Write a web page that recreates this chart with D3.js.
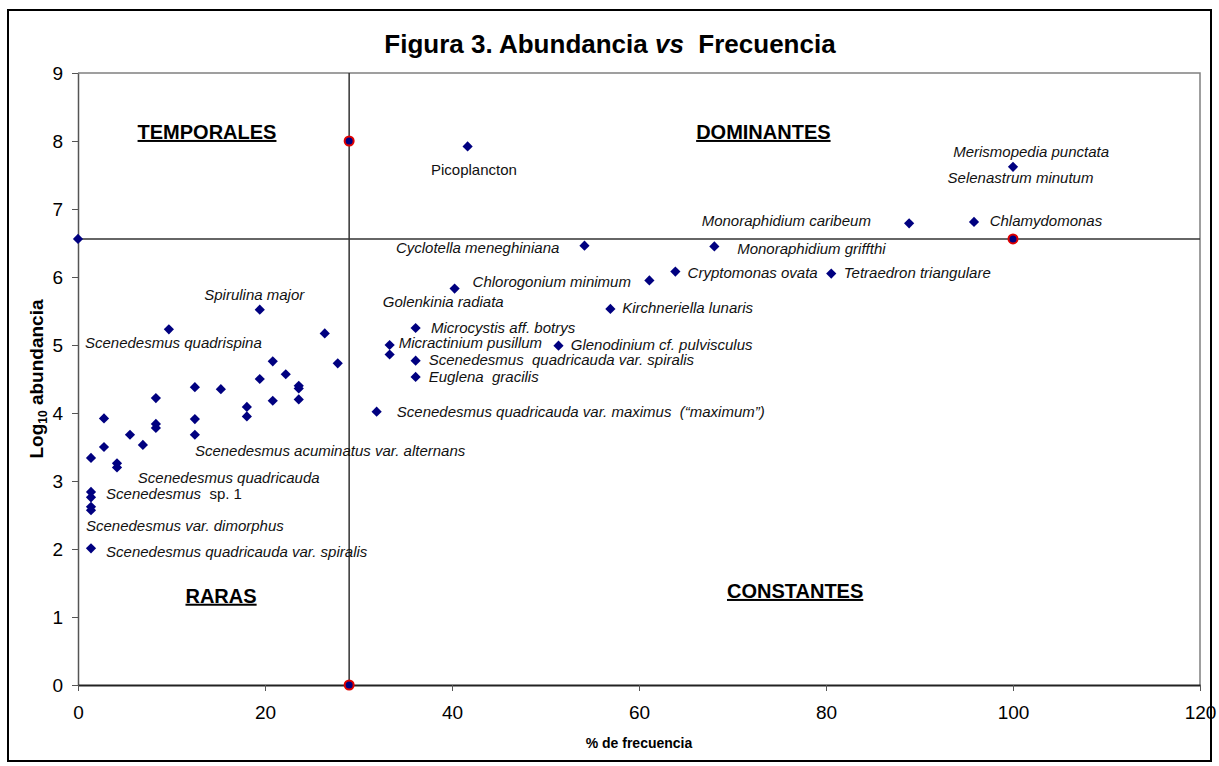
<!DOCTYPE html>
<html>
<head>
<meta charset="utf-8">
<script src="https://cdn.jsdelivr.net/npm/d3@7"></script>
<style>
  body { margin: 0; background: #fff; }
  svg text { font-family: "Liberation Sans", Arial, sans-serif; white-space: pre; }
</style>
</head>
<body>
<svg id="chart"></svg>
<script>
// frecuencia (%) and log10 abundancia of each taxon
var frecuencia = [1.39, 1.39, 1.39, 1.39, 1.39, 1.39, 2.78, 2.78, 4.17, 4.17,
  5.56, 6.94, 8.33, 8.33, 8.33, 9.72, 12.5, 12.5, 12.5, 15.28,
  18.06, 18.06, 19.44, 19.44, 20.83, 20.83, 22.22, 23.61, 23.61, 23.61,
  26.39, 27.78, 31.94, 33.33, 33.33, 36.11, 36.11, 36.11, 40.28, 41.67,
  51.39, 54.17, 56.94, 61.11, 63.89, 68.06, 80.56, 88.89, 95.83, 100]
var abundancia = [3.34, 2.84, 2.76, 2.62, 2.57, 2.01, 3.92, 3.50, 3.26, 3.20,
  3.68, 3.53, 4.22, 3.84, 3.78, 5.23, 4.38, 3.91, 3.68, 4.35,
  4.09, 3.95, 5.52, 4.50, 4.76, 4.18, 4.57, 4.40, 4.36, 4.20,
  5.17, 4.73, 4.02, 5.00, 4.86, 5.25, 4.77, 4.53, 5.83, 7.92,
  4.99, 6.46, 5.53, 5.95, 6.08, 6.45, 6.05, 6.79, 6.81, 7.62]

// quadrant limits
var limiteX = 29
var limiteY = 6.56
// end points of the quadrant lines
var extremosX = [29, 29, 100]
var extremosY = [8, 0, 6.56]
var extremoIzqX = [0]
var extremoIzqY = [6.56]

var xTicks = [0, 20, 40, 60, 80, 100, 120]
var yTicks = [0, 1, 2, 3, 4, 5, 6, 7, 8, 9]

// species names and where each label sits (data units)
var nombres = ["Picoplancton", "Merismopedia punctata", "Selenastrum minutum",
  "Monoraphidium caribeum", "Chlamydomonas", "Cyclotella meneghiniana",
  "Monoraphidium griffthi", "Chlorogonium minimum", "Cryptomonas ovata",
  "Tetraedron triangulare", "Golenkinia radiata", "Kirchneriella lunaris",
  "Microcystis aff. botrys", "Micractinium pusillum", "Glenodinium cf. pulvisculus",
  "Scenedesmus  quadricauda var. spiralis", "Euglena  gracilis",
  "Scenedesmus quadricauda var. maximus  (\u201cmaximum\u201d)", "Spirulina major",
  "Scenedesmus quadrispina", "Scenedesmus acuminatus var. alternans",
  "Scenedesmus quadricauda", "Scenedesmus", "Scenedesmus var. dimorphus",
  "Scenedesmus quadricauda var. spiralis"]
var nombreX = [37.75, 93.6, 93.0, 66.7, 97.5, 34.0, 70.5, 42.2, 65.2, 81.9,
  32.6, 58.2, 37.75, 34.3, 52.7, 37.5, 37.5, 34.1, 13.5, 0.75,
  12.5, 6.4, 3.0, 0.85, 3.0]
var nombreY = [7.50, 7.76, 7.38, 6.75, 6.75, 6.35, 6.34, 5.85, 5.99, 5.99,
  5.56, 5.47, 5.18, 4.96, 4.93, 4.71, 4.46, 3.94, 5.66, 4.96,
  3.37, 2.97, 2.74, 2.27, 1.88]

var cuadrantes = ["TEMPORALES", "DOMINANTES", "RARAS", "CONSTANTES"]
var cuadranteX = [13.8, 73.3, 15.3, 76.7]
var cuadranteY = [8.03, 8.03, 1.21, 1.28]

var W = 1219, H = 766
var margin = {top: 73, right: 19, bottom: 81, left: 78},
  width = W - margin.left - margin.right,
  height = H - margin.top - margin.bottom;

var root = d3.select("#chart").attr("width", W).attr("height", H)

// outer chart border
root.append("rect")
  .attr("x", 8).attr("y", 10)
  .attr("width", 1203).attr("height", 751)
  .attr("fill", "#fff").attr("stroke", "#000").attr("stroke-width", 2)

// title
var title = root.append("text")
  .attr("x", 610).attr("y", 53)
  .attr("text-anchor", "middle")
  .style("font-size", "26px").style("font-weight", "bold")
title.append("tspan").text("Figura 3. Abundancia ")
title.append("tspan").style("font-style", "italic").text("vs")
title.append("tspan").text("  Frecuencia")

var svg = root.append("g")
  .attr("transform", "translate(" + margin.left + "," + margin.top + ")")

var x = d3.scaleLinear().domain([0, 120]).range([0, width])
var y = d3.scaleLinear().domain([0, 9]).range([height, 0])

// plot area frame (top and right)
svg.append("path")
  .attr("d", "M0,0H" + width + "V" + height)
  .attr("fill", "none").attr("stroke", "#808080").attr("stroke-width", 1.5)

// axes
var yAxis = svg.append("g")
  .call(d3.axisLeft(y).tickValues(yTicks).tickSize(6).tickSizeOuter(0).tickPadding(9))
yAxis.select(".domain").attr("stroke", "#555").attr("stroke-width", 1.5)
yAxis.selectAll(".tick line").attr("stroke", "#555")
yAxis.selectAll("text").style("font-size", "19px").attr("fill", "#000")

var xAxis = svg.append("g")
  .attr("transform", "translate(0," + height + ")")
  .call(d3.axisBottom(x).tickValues(xTicks).tickSize(6).tickSizeOuter(0).tickPadding(15))
xAxis.select(".domain").attr("stroke", "#222").attr("stroke-width", 2)
xAxis.selectAll(".tick line").attr("stroke", "#555")
xAxis.selectAll("text").style("font-size", "19px").attr("fill", "#000")

// axis titles, centred on the plot area
root.append("text")
  .attr("x", margin.left + width / 2).attr("y", 748)
  .attr("text-anchor", "middle")
  .style("font-size", "14px").style("font-weight", "bold")
  .text("% de frecuencia")

var yt = root.append("text")
  .attr("transform", "translate(43," + (margin.top + height / 2) + ") rotate(-90)")
  .attr("text-anchor", "middle")
  .style("font-size", "19px").style("font-weight", "bold")
yt.append("tspan").text("Log")
yt.append("tspan").attr("dy", 4).style("font-size", "12px").text("10")
yt.append("tspan").attr("dy", -4).text(" abundancia")

// quadrant lines
svg.append("line")
  .attr("x1", x(limiteX)).attr("x2", x(limiteX))
  .attr("y1", y(0)).attr("y2", y(9))
  .attr("stroke", "#333").attr("stroke-width", 1.5)
svg.append("line")
  .attr("x1", x(0)).attr("x2", x(120))
  .attr("y1", y(limiteY)).attr("y2", y(limiteY))
  .attr("stroke", "#333").attr("stroke-width", 1.5)

// quadrant names
svg.selectAll(".cuadrante")
  .data(cuadrantes)
  .enter()
  .append("text")
  .attr("class", "cuadrante")
  .attr("x", function (d, i) { return x(cuadranteX[i]); })
  .attr("y", function (d, i) { return y(cuadranteY[i]); })
  .attr("text-anchor", "middle")
  .style("font-size", "20px").style("font-weight", "bold")
  .style("text-decoration", "underline")
  .text(function (d) { return d; })

// species labels
var etiquetas = svg.selectAll(".nombre")
  .data(nombres)
  .enter()
  .append("text")
  .attr("class", "nombre")
  .attr("x", function (d, i) { return x(nombreX[i]); })
  .attr("y", function (d, i) { return y(nombreY[i]); })
  .style("font-size", "15px")
  .style("font-style", function (d) { return d == "Picoplancton" ? "normal" : "italic"; })
  .attr("fill", "#111")
  .text(function (d) { return d; })
etiquetas.filter(function (d) { return d == "Scenedesmus"; })
  .append("tspan").style("font-style", "normal").text("  sp. 1")

// diamonds
var diamante = d3.symbol().type(d3.symbolSquare).size(52)
svg.selectAll(".punto")
  .data(frecuencia)
  .enter()
  .append("path")
  .attr("class", "punto")
  .attr("d", diamante)
  .attr("transform", function (d, i) {
    return "translate(" + x(d) + "," + y(abundancia[i]) + ") rotate(45)";
  })
  .attr("fill", "#000080")

// end of the horizontal line at x = 0
svg.selectAll(".extremoIzq")
  .data(extremoIzqX)
  .enter()
  .append("path")
  .attr("class", "extremoIzq")
  .attr("d", diamante)
  .attr("transform", function (d, i) {
    return "translate(" + x(d) + "," + y(extremoIzqY[i]) + ") rotate(45)";
  })
  .attr("fill", "#000080")

// red-ringed end points
svg.selectAll(".extremo")
  .data(extremosX)
  .enter()
  .append("circle")
  .attr("class", "extremo")
  .attr("cx", function (d) { return x(d); })
  .attr("cy", function (d, i) { return y(extremosY[i]); })
  .attr("r", 4.5)
  .attr("fill", "#000080")
  .attr("stroke", "#e00000")
  .attr("stroke-width", 2)
</script>
</body>
</html>
